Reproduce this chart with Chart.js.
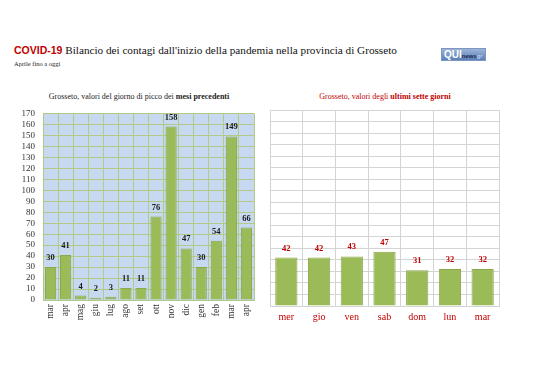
<!DOCTYPE html>
<html>
<head>
<meta charset="utf-8">
<script src="https://cdn.jsdelivr.net/npm/chart.js@4.4.1/dist/chart.umd.min.js"></script>
<style>
  body { margin: 0; background: #fff; width: 538px; height: 380px; overflow: hidden; position: relative; }
  .title { position: absolute; left: 14px; top: 44px; font-family: "Liberation Serif", serif; font-size: 11.2px; color: #111; white-space: nowrap; }
  .title b { font-family: "Liberation Sans", Arial, sans-serif; font-size: 10.5px; color: #c00000; }
  .sub { position: absolute; left: 14px; top: 60px; font-family: "Liberation Serif", serif; font-size: 6.5px; color: #222; }
  .logo { position: absolute; left: 441px; top: 48px; width: 45px; height: 13px; background: linear-gradient(#9cb4d8, #5a7fb8); border: 1px solid #7d97c0; box-sizing: border-box; font-family: "Liberation Sans", sans-serif; font-size: 8px; line-height: 11px; white-space: nowrap; overflow: hidden; padding-left: 2px; }
  .logo .q { color: #fff; font-weight: bold; font-size: 10px; }
  .logo .n { color: #1a2a50; font-weight: bold; font-size: 6px; }
  .logo .g { color: #d8e4f4; font-size: 6px; }
  .ct { position: absolute; top: 92px; font-family: "Liberation Serif", serif; font-size: 8px; white-space: nowrap; transform: translateX(-50%); }
  canvas { position: absolute; }
</style>
</head>
<body>
<div class="title"><b>COVID-19</b> Bilancio dei contagi dall'inizio della pandemia nella provincia di Grosseto</div>
<div class="sub">Aprile fino a oggi</div>
<div class="logo"><span class="q">QUI</span><span class="n">news</span><span class="g">gr</span></div>
<div class="ct" style="left:139px;color:#222">Grosseto, valori del giorno di picco dei <b>mesi precedenti</b></div>
<div class="ct" style="left:385px;color:#c00000">Grosseto, valori degli <b>ultimi sette giorni</b></div>
<canvas id="monthChart" width="270" height="250" style="left:0;top:100px"></canvas>
<canvas id="weekChart" width="278" height="250" style="left:260px;top:100px"></canvas>
<script>
// peak day of each month
const months = ["mar", "apr", "mag", "giu", "lug", "ago", "set", "ott", "nov", "dic", "gen", "feb", "mar", "apr"];
const monthPeaks = [30, 41, 4, 2, 3, 11, 11, 76, 158, 47, 30, 54, 149, 66];

// last seven days
const days = ["mer", "gio", "ven", "sab", "dom", "lun", "mar"];
const dayValues = [42, 42, 43, 47, 31, 32, 32];

const yMax = 170;
const yStep = 10;

const serif = "'Liberation Serif', serif";

// plot area background
const plotBg = {
    id: "plotBg",
    beforeDraw(chart, args, opts) {
        if (!opts.color) return;
        const a = chart.chartArea;
        chart.ctx.save();
        chart.ctx.fillStyle = opts.color;
        chart.ctx.fillRect(a.left, a.top, a.right - a.left, a.bottom - a.top);
        chart.ctx.restore();
    }
};

// value labels above bars
const barLabels = {
    id: "barLabels",
    afterDatasetsDraw(chart, args, opts) {
        const ctx = chart.ctx;
        const meta = chart.getDatasetMeta(0);
        ctx.save();
        ctx.font = "bold 8.5px " + serif;
        ctx.fillStyle = opts.color || "#222";
        ctx.textAlign = "center";
        ctx.textBaseline = "bottom";
        meta.data.forEach((bar, i) => {
            ctx.fillText(chart.data.datasets[0].data[i], bar.x, bar.y - 5);
        });
        ctx.restore();
    }
};

new Chart(document.getElementById("monthChart"), {
    type: "bar",
    data: {
        labels: months,
        datasets: [{
            data: monthPeaks,
            backgroundColor: "#9bbb59",
            borderColor: "#8aa84c",
            borderWidth: 1,
            categoryPercentage: 1,
            barPercentage: 0.74
        }]
    },
    options: {
        responsive: false,
        animation: false,
        layout: { padding: { left: 0, right: 16, top: 11, bottom: 0 } },
        plugins: {
            legend: { display: false },
            tooltip: { enabled: false },
            plotBg: { color: "#c6d9f1" },
            barLabels: { color: "#1a1a1a" }
        },
        scales: {
            x: {
                grid: { color: "#b3c986", drawTicks: false, offset: true },
                border: { color: "#b3c986" },
                ticks: { font: { family: serif, size: 9.5 }, color: "#333", minRotation: 90, maxRotation: 90, padding: 4 },
                afterFit(s) { s.height = 50; }
            },
            y: {
                min: 0,
                max: yMax,
                grid: { color: "#b3c986", drawTicks: false },
                border: { color: "#b3c986" },
                ticks: { stepSize: yStep, autoSkip: false, font: { family: serif, size: 9 }, color: "#333", padding: 8 },
                afterFit(s) { s.width = 43; }
            }
        }
    },
    plugins: [plotBg, barLabels]
});

new Chart(document.getElementById("weekChart"), {
    type: "bar",
    data: {
        labels: days,
        datasets: [{
            data: dayValues,
            backgroundColor: "#9bbb59",
            borderColor: "#8aa84c",
            borderWidth: 1,
            categoryPercentage: 1,
            barPercentage: 0.68
        }]
    },
    options: {
        responsive: false,
        animation: false,
        layout: { padding: { left: 10, right: 39, top: 10, bottom: 0 } },
        plugins: {
            legend: { display: false },
            tooltip: { enabled: false },
            barLabels: { color: "#c00000" }
        },
        scales: {
            x: {
                grid: { color: "#d4d4d4", drawTicks: false, offset: true },
                border: { color: "#d4d4d4" },
                ticks: { font: { family: serif, size: 10 }, color: "#c00000", maxRotation: 0, padding: 5 },
                afterFit(s) { s.height = 44; }
            },
            y: {
                min: 0,
                max: yMax,
                grid: { color: "#d4d4d4", drawTicks: false },
                border: { color: "#d4d4d4" },
                ticks: { stepSize: yStep, display: false },
                afterFit(s) { s.width = 0; }
            }
        }
    },
    plugins: [barLabels]
});
</script>
</body>
</html>
